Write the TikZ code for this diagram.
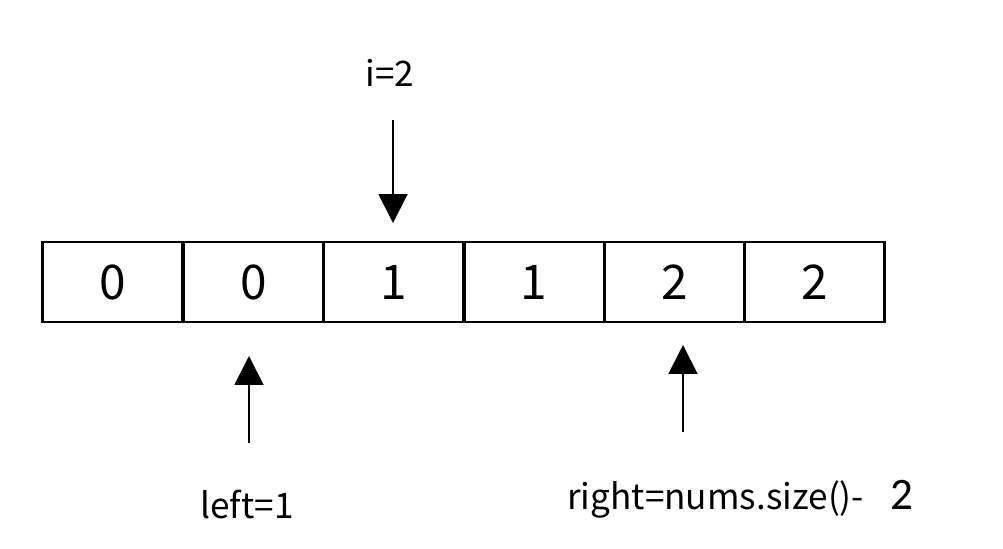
\documentclass[tikz,border=0pt]{standalone}
\usepackage{fontspec}
\setmainfont{Noto Sans CJK SC}
\newfontfamily\numfont{Carlito}
\usetikzlibrary{shapes,arrows.meta,positioning,calc}

\begin{document}
\begin{tikzpicture}[x=0.025cm, y=-0.025cm,
  cell/.style={draw, line width=2.1pt, minimum width=3.51cm, minimum height=2cm, inner sep=0pt, font=\fontsize{34}{40}\selectfont},
  label/.style={inner sep=0pt, font=\fontsize{25}{28}\selectfont},
  ptr/.style={line width=1.4pt, -{Triangle[width=20.6pt, length=20.6pt]}}]
\useasboundingbox (0,0) rectangle (1003,548);

% 数组
\node[cell] (c0) at (112.5,282) {0};
\node[cell] (c1) at (253.5,282) {0};
\node[cell] (c2) at (394,282) {1};
\node[cell] (c3) at (534,282) {1};
\node[cell] (c4) at (674.5,282) {2};
\node[cell] (c5) at (814.5,282) {2};

% 指针标签
\node[label] (ilab) at (390,73) {i=2};
\node[label] (llab) at (247,504) {left=1};
\node[label, anchor=west] (rlab) at (567,499) {right=nums.size()-\hspace{0.75em}{\numfont\fontsize{32}{34}\selectfont 2}};

% 箭头端点
\coordinate (itail) at (393,120);
\coordinate (itip) at (393,223);
\coordinate (ltail) at (249,443);
\coordinate (ltip) at (249,356);
\coordinate (rtail) at (683,432);
\coordinate (rtip) at (683,345);

% 箭头
\draw[ptr] (itail) -- (itip);
\draw[ptr] (ltail) -- (ltip);
\draw[ptr] (rtail) -- (rtip);
\end{tikzpicture}
\end{document}
